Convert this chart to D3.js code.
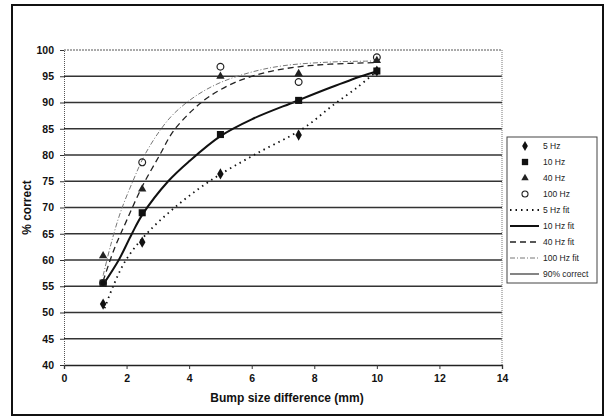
<!DOCTYPE html>
<html>
<head>
<meta charset="utf-8">
<script src="https://cdn.jsdelivr.net/npm/d3@7"></script>
<style>
  html, body { margin: 0; padding: 0; background: #fff; }
  svg { display: block; font-family: "Liberation Sans", Arial, sans-serif; }
</style>
</head>
<body>
<div id="chart"></div>
<script>
/* data */
const bumpSizes = [1.25, 2.5, 5, 7.5, 10];
const hz5 = [51.6, 63.4, 76.4, 83.8, 96];
const hz10 = [55.6, 69, 83.9, 90.4, 96];
const hz40 = [60.8, 73.5, 95, 95.5, 98];
const hz100 = [55.6, 78.6, 96.8, 93.9, 98.6];

// fit curves, points
const fit5X = [1.3, 1.57, 1.98, 2.64, 3.54, 4.65, 6.07, 7.63, 8.6, 9.4, 10];
const fit5Y = [50.8, 55, 60, 65, 70, 75, 80, 85, 89.5, 93, 96];
const fit10X = [1.25, 1.75, 2.17, 2.5, 3.33, 4, 5, 6, 7.4, 8.5, 9.5, 10];
const fit10Y = [55.3, 60, 65, 68.6, 75, 78.8, 83.6, 86.8, 90.2, 92.8, 95, 95.9];
const fit40X = [1.25, 1.6, 2.0, 2.5, 3.06, 3.49, 4.12, 4.66, 5.5, 6.5, 7.5, 8.5, 10];
const fit40Y = [56, 62, 67.5, 74, 80, 84.5, 88.6, 91.2, 93.9, 95.8, 96.8, 97.3, 97.6];
const fit100X = [1.25, 1.5, 1.8, 2.2, 2.58, 3.06, 3.5, 4.2, 5, 6, 7, 8.5, 10];
const fit100Y = [57, 63, 69, 75, 80, 84.6, 87.8, 91.2, 93.8, 95.8, 97, 97.7, 97.9];
const correct90X = [0, 14];
const correct90Y = [90, 90];

const xTicks = [0, 2, 4, 6, 8, 10, 12, 14];
const yTicks = [40, 45, 50, 55, 60, 65, 70, 75, 80, 85, 90, 95, 100];
const legendLabels = ['5 Hz', '10 Hz', '40 Hz', '100 Hz', '5 Hz fit', '10 Hz fit', '40 Hz fit', '100 Hz fit', '90% correct'];

const width = 606, height = 419;

const svg = d3.select('#chart').append('svg')
    .attr('width', width)
    .attr('height', height);

// outer frame of the scanned figure
svg.append('rect')
    .attr('x', 12).attr('y', 5)
    .attr('width', 591).attr('height', 410)
    .attr('fill', 'none')
    .attr('stroke', '#111')
    .attr('stroke-width', 2);

const x = d3.scaleLinear().domain([0, 14]).range([64, 502]);
const y = d3.scaleLinear().domain([40, 100]).range([365, 50]);

// gridlines
svg.append('g').selectAll('line')
    .data(yTicks.filter(v => v > 40 && v < 100))
    .enter().append('line')
    .attr('x1', x(0)).attr('x2', x(14))
    .attr('y1', d => y(d)).attr('y2', d => y(d))
    .attr('stroke', '#333')
    .attr('stroke-width', 1.3);

// plot top and right borders (dotted)
svg.append('line')
    .attr('x1', x(0)).attr('x2', x(14))
    .attr('y1', y(100)).attr('y2', y(100))
    .attr('stroke', '#555').attr('stroke-dasharray', '2,1');
svg.append('line')
    .attr('x1', x(14)).attr('x2', x(14))
    .attr('y1', y(100)).attr('y2', y(40))
    .attr('stroke', '#777').attr('stroke-dasharray', '1,1');

// axes
const xAxis = svg.append('g')
    .attr('transform', `translate(0,${y(40)})`)
    .call(d3.axisBottom(x).tickValues(xTicks).tickSize(4).tickPadding(6));
const yAxis = svg.append('g')
    .attr('transform', `translate(${x(0)},0)`)
    .call(d3.axisLeft(y).tickValues(yTicks).tickSize(4).tickPadding(6));

xAxis.select('.domain').attr('stroke', '#222').attr('stroke-width', 1.3);
yAxis.select('.domain').attr('stroke', '#555').attr('stroke-dasharray', '1,1');
[xAxis, yAxis].forEach(a => {
    a.selectAll('.tick line').attr('stroke', '#333');
    a.selectAll('.tick text')
        .attr('fill', '#111')
        .attr('font-size', '10.5px')
        .attr('font-weight', 'bold')
        .attr('font-family', '"Liberation Sans", Arial, sans-serif');
});

// axis titles
svg.append('text')
    .attr('x', 287).attr('y', 402)
    .attr('text-anchor', 'middle')
    .attr('font-size', '12px')
    .attr('font-weight', 'bold')
    .attr('fill', '#111')
    .text('Bump size difference (mm)');

svg.append('text')
    .attr('transform', `translate(31,${(y(40) + y(100)) / 2}) rotate(-90)`)
    .attr('text-anchor', 'middle')
    .attr('font-size', '12px')
    .attr('font-weight', 'bold')
    .attr('fill', '#111')
    .text('% correct');

// fit curves
const fitStyles = [
    { xs: fit5X, ys: fit5Y, stroke: '#111', width: 1.8, dash: '1.5,4' },
    { xs: fit10X, ys: fit10Y, stroke: '#111', width: 2, dash: null },
    { xs: fit40X, ys: fit40Y, stroke: '#222', width: 1.3, dash: '6,4' },
    { xs: fit100X, ys: fit100Y, stroke: '#777', width: 1, dash: '5,2,1,2' },
    { xs: correct90X, ys: correct90Y, stroke: '#333', width: 1.2, dash: null }
];

const line = d3.line()
    .x(d => x(d[0]))
    .y(d => y(d[1]))
    .curve(d3.curveCatmullRom.alpha(0.5));

const fitGroup = svg.append('g');
fitStyles.forEach(f => {
    fitGroup.append('path')
        .attr('d', line(f.xs.map((v, i) => [v, f.ys[i]])))
        .attr('fill', 'none')
        .attr('stroke', f.stroke)
        .attr('stroke-width', f.width)
        .attr('stroke-dasharray', f.dash);
});

// markers
const markerStyles = [
    { vals: hz5, type: d3.symbolDiamond, size: 36, fill: '#111', stroke: 'none' },
    { vals: hz10, type: d3.symbolSquare, size: 50, fill: '#111', stroke: 'none' },
    { vals: hz40, type: d3.symbolTriangle, size: 30, fill: '#222', stroke: 'none' },
    { vals: hz100, type: d3.symbolCircle, size: 36, fill: 'none', stroke: '#222' }
];

const markGroup = svg.append('g');
markerStyles.forEach(m => {
    markGroup.selectAll(null)
        .data(m.vals.map((v, i) => [bumpSizes[i], v]))
        .enter().append('path')
        .attr('transform', d => `translate(${x(d[0])},${y(d[1])})`)
        .attr('d', d3.symbol().type(m.type).size(m.size))
        .attr('fill', m.fill)
        .attr('stroke', m.stroke)
        .attr('stroke-width', 1.2);
});

// legend
const legend = svg.append('g');
legend.append('rect')
    .attr('x', 507).attr('y', 137)
    .attr('width', 90).attr('height', 146)
    .attr('fill', '#fff')
    .attr('stroke', '#444')
    .attr('stroke-width', 1);

legendLabels.forEach((label, i) => {
    const ly = 146 + i * 16;
    if (i < 4) {
        const m = markerStyles[i];
        legend.append('path')
            .attr('transform', `translate(525,${ly})`)
            .attr('d', d3.symbol().type(m.type).size(m.size * 0.8))
            .attr('fill', m.fill)
            .attr('stroke', m.stroke)
            .attr('stroke-width', 1.1);
    } else {
        const f = fitStyles[i - 4];
        legend.append('line')
            .attr('x1', 510).attr('x2', 539)
            .attr('y1', ly).attr('y2', ly)
            .attr('stroke', f.stroke)
            .attr('stroke-width', f.width)
            .attr('stroke-dasharray', f.dash);
    }
    legend.append('text')
        .attr('x', 543).attr('y', ly + 3)
        .attr('font-size', '8.5px')
        .attr('fill', '#222')
        .text(label);
});
</script>
</body>
</html>
